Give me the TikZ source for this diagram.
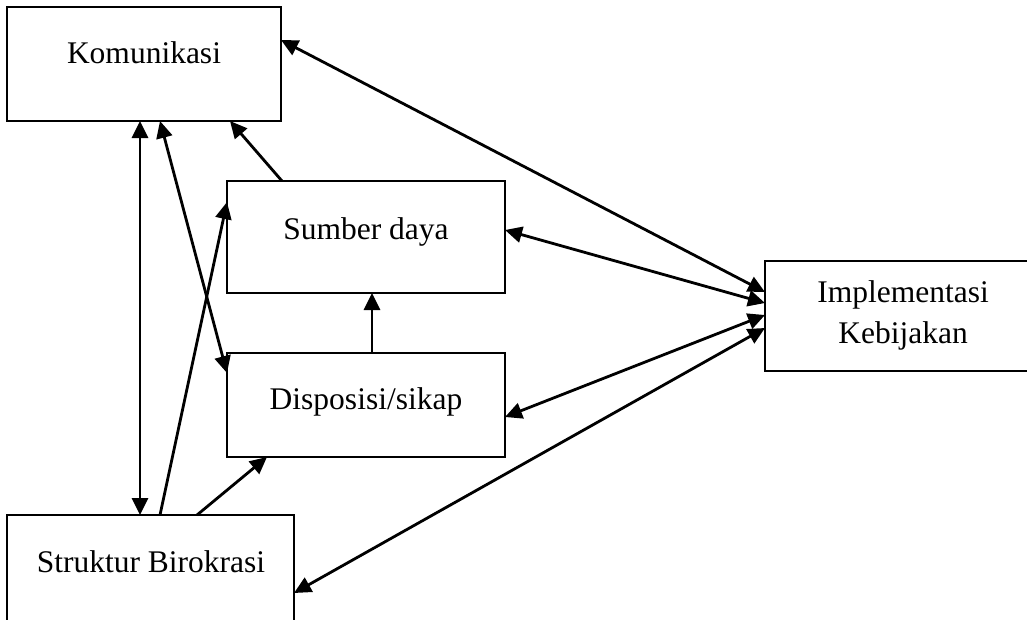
\documentclass[tikz,border=0pt]{standalone}
\usepackage{fontspec}
\setmainfont{Liberation Serif}
\usetikzlibrary{arrows.meta}
\begin{document}
\begin{tikzpicture}[x=1pt,y=-1pt,
  box/.style={draw=black, line width=2pt, rectangle, inner sep=0pt, outer sep=0pt, anchor=north west},
  lbl/.style={inner sep=0pt, font=\fontsize{31.5}{41}\selectfont, anchor=base},
  conn/.style={line width=2.8pt, -{Triangle[length=17pt,width=16pt]}},
  dconn/.style={line width=2.8pt, {Triangle[length=17pt,width=16pt]}-{Triangle[length=17pt,width=16pt]}}]
\useasboundingbox (0,0) rectangle (1027,619);
\clip (0,0) rectangle (1027,619);
% boxes
\node[box, minimum width=274pt, minimum height=114pt] (kom) at (7,7) {};
\node[box, minimum width=278pt, minimum height=112pt] (sum) at (227,181) {};
\node[box, minimum width=278pt, minimum height=104pt] (dis) at (227,353) {};
\node[box, minimum width=287pt, minimum height=130pt] (str) at (7,515) {};
\node[box, minimum width=300pt, minimum height=110pt] (imp) at (765,261) {};
% labels
\node[lbl] (komT) at (144,63) {Komunikasi};
\node[lbl] (sumT) at (366,239) {Sumber daya};
\node[lbl] (disT) at (366,409) {Disposisi/sikap};
\node[lbl] (strT) at (151,572) {Struktur Birokrasi};
\node[lbl, anchor=center, align=center] (impT) at (903,315) {Implementasi\\Kebijakan};
% connectors to Implementasi
\draw[dconn] ([yshift=-33pt]kom.north east) -- ([yshift=-31pt]imp.north west);
\draw[dconn] ([yshift=-49pt]sum.north east) -- ([yshift=-42pt]imp.north west);
\draw[dconn] ([yshift=-64pt]dis.north east) -- ([yshift=-54pt]imp.north west);
\draw[dconn] ([yshift=-78pt]str.north east) -- ([yshift=-67pt]imp.north west);
% left connectors
\draw[dconn] ([xshift=133pt]kom.south west) -- ([xshift=133pt]str.north west);
\draw[dconn] ([xshift=153pt]kom.south west) -- ([yshift=-20pt]dis.north west);
\draw[conn] ([xshift=153pt]str.north west) -- ([yshift=-21pt]sum.north west);
\draw[conn] ([xshift=55pt]sum.north west) -- ([xshift=223pt]kom.south west);
\draw[conn] ([xshift=145pt]dis.north west) -- ([xshift=145pt]sum.south west);
\draw[conn] ([xshift=190pt]str.north west) -- ([xshift=40pt]dis.south west);
\end{tikzpicture}
\end{document}
